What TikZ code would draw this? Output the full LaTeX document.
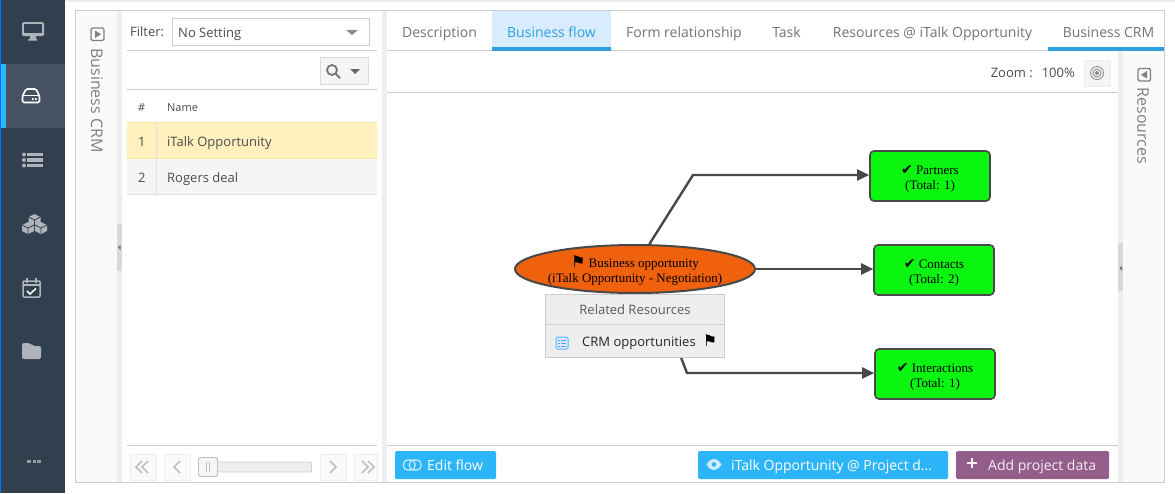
\documentclass[tikz,border=0pt]{standalone}
\usepackage{fontspec}
\setmainfont{Open Sans}
\newfontfamily\graphfont{Liberation Serif}
\newfontfamily\symfont{DejaVu Sans}
\usetikzlibrary{shapes.geometric,arrows.meta,positioning}
\definecolor{sidebar}{HTML}{323F4E}
\definecolor{sideactive}{HTML}{465261}
\definecolor{sideicon}{HTML}{AEB4BB}
\definecolor{skyblue}{HTML}{2DB5F9}
\definecolor{tabblue}{HTML}{2E9FE0}
\definecolor{plum}{HTML}{935E8A}
\definecolor{rulegray}{HTML}{CCCCCC}
\definecolor{splitgray}{HTML}{EEEEEE}
\definecolor{panelgray}{HTML}{FAFAFA}
\definecolor{edgegray}{HTML}{484848}
\definecolor{okgreen}{HTML}{0AF510}
\definecolor{oppty}{HTML}{F0610D}
\definecolor{rowyellow}{HTML}{FFF0BD}
\definecolor{rowline}{HTML}{F5E3A8}
\newcommand{\topstrut}{\rule{0pt}{15pt}}
\newcommand{\okmark}{\smash{\symfont\fontsize{14}{12}\selectfont ✔}}
\newcommand{\flagmark}[1]{\smash{\symfont\fontsize{#1}{12}\selectfont ⚑}}
\tikzset{
  lbl/.style={inner sep=0pt,anchor=west,yshift=-1.5pt,text height=10pt,text depth=3pt,font=\fontsize{13}{15}\selectfont,text=#1},
  lbl/.default={black!70},
  tablbl/.style={inner sep=0pt,yshift=-1.5pt,text height=11pt,text depth=3pt,font=\fontsize{14}{16}\selectfont,text=black!55},
  sidelbl/.style={inner sep=0pt,rotate=-90,font=\fontsize{16}{18}\selectfont,text=black!50},
  btn/.style={inner sep=0pt,yshift=-1.5pt,text height=11pt,text depth=3pt,font=\fontsize{14}{16}\selectfont,text=white},
  resbox/.style={draw=edgegray,line width=1.6pt,fill=okgreen,rounded corners=4pt,minimum width=120pt,minimum height=50pt,inner sep=0pt,align=center,font=\graphfont\fontsize{13}{15}\selectfont},
  flowedge/.style={draw=edgegray,line width=2.4pt,-{Triangle[length=12pt,width=11pt]}},
  pagebtn/.style={draw=splitgray,fill=panelgray,line width=.8pt},
  chev/.style={draw=black!25,line width=1.5pt},
  sideico/.style={sideicon}
}
\begin{document}
\begin{tikzpicture}[x=1pt,y=-1pt]
\useasboundingbox (0,0) rectangle (1175,493);
\fill[white] (0,0) rectangle (1175,493);
\fill[splitgray] (65,0) rectangle (1175,2);
% sidebar
\fill[sidebar] (0,0) rectangle (65,493);
\fill[blue!55!cyan] (0,0) rectangle (1,493);
\fill[sideactive] (1,64) rectangle (65,128);
\fill[skyblue] (1,64) rectangle (6,128);
\fill[sideicon,rounded corners=1.5pt] (22,22) rectangle (44,36);
\fill[sidebar] (24,24) rectangle (42,33);
\fill[sideicon] (30,36) rectangle (36,39) (28,39) rectangle (37,40.5);
\draw[white,line width=1.6pt,rounded corners=1.5pt] (26,89) -- (36,89) -- (39.5,96) -- (39.5,102.5) -- (22.5,102.5) -- (22.5,96) -- cycle;
\draw[white,line width=1.2pt] (23,95.5) -- (39,95.5);
\fill[white] (32,98) rectangle (33.5,100) (35,98) rectangle (36.5,100);
\foreach \ly in {154.5,160,165.5}{
  \fill[sideico] (24,\ly) circle (2);
  \fill[sideico] (27,\ly-1.7) rectangle (43,\ly+1.7);
}
\foreach \cx/\cy in {34.5/220,28/228,41/228}{
  \fill[sideico] (\cx-6,\cy-3) -- (\cx,\cy-6) -- (\cx+6,\cy-3) -- (\cx+6,\cy+3) -- (\cx,\cy+6) -- (\cx-6,\cy+3) -- cycle;
  \draw[sidebar,line width=.8pt] (\cx-6,\cy-3) -- (\cx,\cy) -- (\cx+6,\cy-3) (\cx,\cy) -- (\cx,\cy+6);
}
\draw[sideicon,line width=1.5pt,rounded corners=1pt] (23,281) rectangle (40,297);
\draw[sideicon,line width=1.5pt] (27,278) -- (27,283) (36,278) -- (36,283) (23,285) -- (40,285);
\draw[white,line width=1.5pt] (27,291) -- (30,294) -- (36,288.5);
\fill[sideicon,rounded corners=2pt] (22,343) -- (30,343) -- (33,346) -- (41,346) -- (41,359) -- (22,359) -- cycle;
\foreach \dx in {27,32.5,37}{\fill[black!40] (\dx,459.5) rectangle (\dx+3.5,462.5);}
% frame and panels
\fill[panelgray] (76,11) rectangle (117,482);
\fill[panelgray] (1123,51) rectangle (1164,482);
\fill[splitgray] (117,11) rectangle (122,482);
\fill[splitgray] (377,11) rectangle (387,482);
\fill[white] (377,11) rectangle (382,482);
\fill[splitgray] (1118,51) rectangle (1123,482);
\fill[black!15] (117,224) rectangle (122,271);
\fill[black!15] (1118,243) rectangle (1123,291);
\fill[black!55] (118,247) -- (120.5,245) -- (120.5,250) -- cycle;
\fill[black!55] (1119.5,268) -- (1122,266) -- (1122,271) -- cycle;
\draw[rulegray,line width=.8pt] (75.5,10.5) rectangle (1164,482.5);
\foreach \ry in {50,89,445}{\draw[rulegray,line width=.8pt] (127,\ry+.5) -- (377,\ry+.5);}
\draw[rulegray,line width=.8pt] (387,50.5) -- (1164,50.5) (387,92.5) -- (1118,92.5) (387,445.5) -- (1118,445.5);
% collapsed side labels
\draw[black!50,line width=1.4pt,rounded corners=1.5pt] (91,28) rectangle (104,40.5);
\fill[black!50] (95,30.5) -- (101,34.2) -- (95,38) -- cycle;
\node[sidelbl] (crmside) at (97,100.5) {Business CRM};
\draw[black!50,line width=1.4pt,rounded corners=1.5pt] (1138,68.5) rectangle (1150.5,81);
\fill[black!50] (1147,71) -- (1141,74.8) -- (1147,78.5) -- cycle;
\node[sidelbl] (resside) at (1143,126) {Resources};
% list panel
\node[lbl] (filterlbl) at (130,31) {Filter:};
\node[draw=rulegray,line width=.8pt,minimum width=197pt,minimum height=27pt,inner sep=0pt] (filterbox) at (270.5,31.5) {};
\node[lbl,anchor=west] (filterval) at (178,32.3) {No Setting};
\fill[black!45] (346,30) -- (358,30) -- (352,35) -- cycle;
\node[draw=rulegray!70,fill=black!4,line width=.8pt,minimum width=48pt,minimum height=27pt,inner sep=0pt] (searchbtn) at (344.5,71) {};
\draw[black!55,line width=1.8pt] (332,70) circle (5) (336,74) -- (340,78);
\fill[black!60] (350,69) -- (360,69) -- (355,74) -- cycle;
\node[lbl,font=\fontsize{11}{13}\selectfont] (numhead) at (138,106) {\#};
\node[lbl,font=\fontsize{11}{13}\selectfont] (namehead) at (167,106) {Name};
\fill[rowyellow] (127,122) rectangle (377,158.5);
\fill[black!4] (127,159) rectangle (377,194);
\draw[rowline,line width=.8pt] (127,122.5) -- (377,122.5) (127,158.5) -- (377,158.5);
\draw[black!12,line width=.8pt] (127,194.5) -- (377,194.5);
\draw[black!12,line width=.8pt] (156.5,122) -- (156.5,194);
\node[lbl] (rownoa) at (138,141.5) {1};
\node[lbl] (rowa) at (167,141.5) {iTalk Opportunity};
\node[lbl] (rownob) at (138,177) {2};
\node[lbl] (rowb) at (167,177) {Rogers deal};
% pager
\foreach \bx/\bw in {130/26,164/26,320/26,354/23}{\draw[pagebtn] (\bx,454) rectangle (\bx+\bw,480);}
\draw[chev] (148,461) -- (142,467) -- (148,473) (142,461) -- (136,467) -- (142,473);
\draw[chev] (180,461) -- (174,467) -- (180,473);
\draw[chev] (330,461) -- (336,467) -- (330,473);
\draw[chev] (362,461) -- (368,467) -- (362,473) (368,461) -- (374,467) -- (368,473);
\draw[black!20,fill=splitgray,line width=.8pt,rounded corners=1pt] (200,462) rectangle (311.5,472);
\draw[black!25,fill=black!4,line width=.8pt,rounded corners=1.5pt] (198.5,457.5) rectangle (217.5,476.5);
\draw[black!25,line width=.8pt] (206.5,462) -- (206.5,472) (209.5,462) -- (209.5,472);
% tabs
\fill[blue!50!cyan!15] (492,11) rectangle (611,47);
\fill[tabblue] (492,47) rectangle (611,51);
\fill[tabblue] (1048,47) rectangle (1164,51);
\node[tablbl] (tabdesc) at (439.5,31.5) {Description};
\node[tablbl,text=tabblue] (tabflow) at (551.5,31.5) {Business flow};
\node[tablbl] (tabform) at (684,31.5) {Form relationship};
\node[tablbl] (tabtask) at (786.5,31.5) {Task};
\node[tablbl] (tabres) at (932.5,31.5) {Resources @ iTalk Opportunity};
\node[tablbl] (tabcrm) at (1108.5,31.5) {Business CRM};
% zoom bar
\node[lbl,anchor=east] (zoomlbl) at (1033,72.3) {Zoom :};
\node[lbl,anchor=east] (zoomval) at (1075,72.3) {100\%};
\node[draw=splitgray,fill=black!4,line width=.8pt,minimum size=26pt,inner sep=0pt] (zoombtn) at (1097,73) {};
\draw[black!45,line width=.9pt] (1097,73) circle (6.5) circle (4);
\fill[black!45] (1097,73) circle (2);
% flow
\node[ellipse,draw=edgegray,fill=oppty,line width=2pt,minimum width=240pt,minimum height=48pt,inner sep=0pt] (opp) at (635,269) {};
\node[inner sep=0pt,align=center,font=\graphfont\fontsize{13}{15}\selectfont] (opptxt) at (635,272) {\flagmark{16} Business opportunity\\(iTalk Opportunity - Negotiation)};
\node[resbox] (partners) at (930,176) {\topstrut\okmark\ Partners\\(Total: 1)};
\node[resbox] (contacts) at (934,270) {\topstrut\okmark\ Contacts\\(Total: 2)};
\node[resbox] (interactions) at (935,374) {\topstrut\okmark\ Interactions\\(Total: 1)};
\coordinate (jogtop) at (693,175);
\coordinate (jogbot) at (687,373);
\draw[flowedge] (opp.60) -- (jogtop) -- (partners.west |- jogtop);
\draw[flowedge] (opp.east) -- (contacts.west |- opp.east);
\draw[flowedge] (opp.-49) -- (jogbot) -- (interactions.west |- jogbot);
% related resources
\node[draw=rulegray,fill=splitgray,line width=.8pt,minimum width=179pt,minimum height=30pt,inner sep=0pt,text height=12pt,text depth=2pt,font=\fontsize{13}{15}\selectfont,text=black!65] (relhead) at (635,309) {Related Resources};
\node[draw=rulegray,fill=splitgray,line width=.8pt,minimum width=179pt,minimum height=33pt,inner sep=0pt,below=-.8pt of relhead] (relrow) {};
\node[lbl,text=black!85] (crmopp) at (582,341.7) {CRM opportunities};
\node[inner sep=0pt] (relflag) at (710,346) {\flagmark{16}};
\draw[blue!40!cyan!70,fill=blue!10,line width=1pt,rounded corners=1.5pt] (556,337) rectangle (568,349);
\foreach \iy in {340,343,346}{\draw[blue!40!cyan!80,line width=1pt] (558,\iy) -- (559.5,\iy) (561,\iy) -- (566,\iy);}
% buttons
\node[fill=skyblue,rounded corners=1.5pt,minimum width=101pt,minimum height=28pt,inner sep=0pt] (editbtn) at (445.5,465) {};
\node[btn,anchor=west] (edittxt) at (427,464.5) {Edit flow};
\draw[white!80!skyblue,line width=1.1pt,rounded corners=4pt] (403.5,460) rectangle (415,470);
\draw[white!80!skyblue,line width=1.1pt,rounded corners=4pt] (409.5,460) rectangle (421,470);
\node[fill=skyblue,rounded corners=1.5pt,minimum width=250pt,minimum height=28pt,inner sep=0pt] (viewbtn) at (823,465) {};
\node[btn,anchor=west] (viewtxt) at (731,464.5) {iTalk Opportunity @ Project d...};
\fill[white!75!skyblue] (706.5,464.5) .. controls (711,457) and (717,457) .. (721.5,464.5) .. controls (717,472) and (711,472) .. (706.5,464.5) -- cycle;
\fill[skyblue] (714,464.5) circle (2.2);
\node[fill=plum,rounded corners=1.5pt,minimum width=153pt,minimum height=28pt,inner sep=0pt] (addbtn) at (1032.5,465) {};
\node[btn,anchor=west,text=white!90!plum] (addtxt) at (988,464.5) {Add project data};
\draw[white!90!plum,line width=2.8pt] (972,458) -- (972,468) (967,463) -- (977,463);
\end{tikzpicture}
\end{document}
